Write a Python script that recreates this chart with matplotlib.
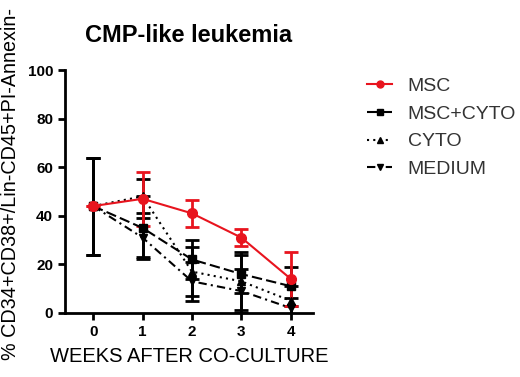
import matplotlib
matplotlib.use("Agg")
import matplotlib.pyplot as plt
from matplotlib.lines import Line2D
import numpy as np

plt.rcParams['font.family'] = ['Liberation Sans', 'DejaVu Sans']

weeks = np.array([0, 1, 2, 3, 4])
msc = [44, 47, 41, 31, 14]
msc_err = [0, 11, 5.5, 3.5, 11]
msc_cyto = [44, 35, 22, 16, 11]
msc_cyto_err = [20, 13, 8, 8, 8]
cyto = [44, 48, 17, 13, 5]
cyto_err = [20, 7, 10, 12, 6]
medium = [44, 31, 13, 9, 2]
medium_err = [20, 8, 8, 9, 4]

fig = plt.figure(figsize=(5.2, 3.77), dpi=100)
ax = fig.add_axes([0.125, 0.17, 0.477, 0.644])

styles = {
    'MSC+CYTO': dict(color='black', ls=(0, (5, 2)), marker='s', ms=6),
    'CYTO': dict(color='black', ls=(0, (1, 2)), marker='^', ms=6),
    'MEDIUM': dict(color='black', ls=(0, (4, 2, 1, 2)), marker='v', ms=6),
    'MSC': dict(color='#e8141e', ls='-', marker='o', ms=7),
}
series = [('MSC+CYTO', msc_cyto, msc_cyto_err), ('CYTO', cyto, cyto_err),
          ('MEDIUM', medium, medium_err), ('MSC', msc, msc_err)]
for name, vals, err in series:
    ax.errorbar(weeks, vals, yerr=err, lw=1.5, capsize=5, elinewidth=2,
                capthick=2, **styles[name])

ax.set_xlim(-0.57, 4.45)
ax.set_ylim(0, 100)
ax.set_xticks(weeks)
ax.set_yticks([0, 20, 40, 60, 80, 100])
for s in ['top', 'right']:
    ax.spines[s].set_visible(False)
for s in ['left', 'bottom']:
    ax.spines[s].set_linewidth(2)
ax.tick_params(width=2, length=5, labelsize=11)
for lab in ax.get_xticklabels() + ax.get_yticklabels():
    lab.set_fontweight('bold')

ax.set_title('CMP-like leukemia', fontsize=17, fontweight='bold', pad=20)
ax.set_xlabel('WEEKS AFTER CO-CULTURE', fontsize=14.5, labelpad=6)
ax.set_ylabel('% CD34+CD38+/Lin-CD45+PI-Annexin-', fontsize=14.2)
ax.yaxis.set_label_coords(-0.18, 0.53)

order = ['MSC', 'MSC+CYTO', 'CYTO', 'MEDIUM']
handles = [Line2D([], [], lw=1.5, **dict(styles[n], ms=5)) for n in order]
fig.legend(handles, order, loc='upper left',
           bbox_to_anchor=(367 / 520, 0.795), frameon=False, fontsize=14,
           handlelength=1.3, labelspacing=0.52, borderpad=0, borderaxespad=0,
           handletextpad=0.8, labelcolor='#333333')

fig.savefig('out.png', dpi=100)
